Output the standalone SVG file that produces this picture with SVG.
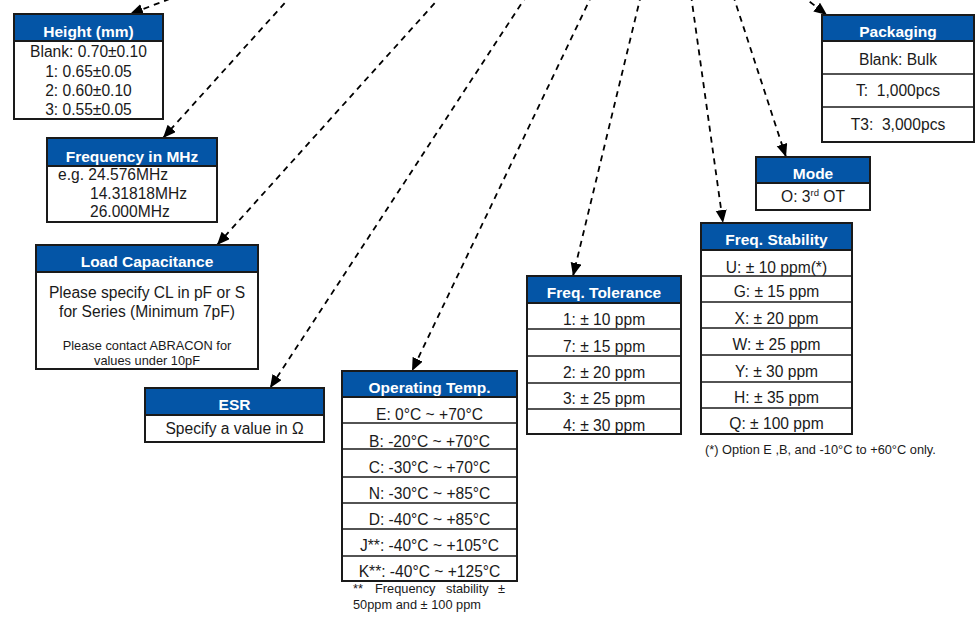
<svg xmlns="http://www.w3.org/2000/svg" width="980" height="625" viewBox="0 0 980 625">
<defs>
<style>
.frame{fill:#fff;stroke:#1a1a1a;stroke-width:2}
.hdr{fill:#0455A6;stroke:#1a1a1a;stroke-width:2}
.sep{stroke:#1a1a1a;stroke-width:1.6}
.ht{font-family:"Liberation Sans",Arial,sans-serif;font-weight:bold;font-size:15.5px;fill:#fff;text-anchor:middle}
.bt{font-family:"Liberation Sans",Arial,sans-serif;font-size:15.6px;fill:#1a1a1a;text-anchor:middle}
.bl{font-family:"Liberation Sans",Arial,sans-serif;font-size:15.6px;fill:#1a1a1a}
.sm{font-family:"Liberation Sans",Arial,sans-serif;font-size:12.8px;fill:#1a1a1a}
.smc{font-family:"Liberation Sans",Arial,sans-serif;font-size:12.8px;fill:#1a1a1a;text-anchor:middle}
.conn{stroke:#000;stroke-width:1.8;stroke-dasharray:6 5;fill:none}
</style>
<marker id="arr" markerUnits="userSpaceOnUse" markerWidth="14" markerHeight="12" refX="13" refY="5.5" orient="auto">
<path d="M0,0 L13,5.5 L0,11 z" fill="#000"/>
</marker>
</defs>
<rect width="980" height="625" fill="#fff"/>

<g id="connectors">
<line class="conn" x1="180" y1="-5" x2="130" y2="14" marker-end="url(#arr)"/>
<line class="conn" x1="292" y1="-5" x2="163" y2="138" marker-end="url(#arr)"/>
<line class="conn" x1="442" y1="-5" x2="217" y2="245" marker-end="url(#arr)"/>
<line class="conn" x1="527" y1="-5" x2="270" y2="388" marker-end="url(#arr)"/>
<line class="conn" x1="592" y1="-5" x2="412" y2="371" marker-end="url(#arr)"/>
<line class="conn" x1="641" y1="-5" x2="573" y2="276" marker-end="url(#arr)"/>
<line class="conn" x1="691" y1="-5" x2="723" y2="223" marker-end="url(#arr)"/>
<line class="conn" x1="733" y1="-5" x2="786" y2="157" marker-end="url(#arr)"/>
<line class="conn" x1="801" y1="-5" x2="827" y2="15" marker-end="url(#arr)"/>
</g>

<g id="height">
<rect class="frame" x="14" y="14" width="149" height="105"/>
<rect class="hdr" x="14" y="14" width="149" height="27"/>
<text class="ht" x="88.5" y="36.5">Height (mm)</text>
<text class="bt" x="88.5" y="57">Blank: 0.70±0.10</text>
<text class="bt" x="88.5" y="77">1: 0.65±0.05</text>
<text class="bt" x="88.5" y="96">2: 0.60±0.10</text>
<text class="bt" x="88.5" y="115">3: 0.55±0.05</text>
</g>

<g id="frequency">
<rect class="frame" x="47" y="138" width="170" height="84"/>
<rect class="hdr" x="47" y="138" width="170" height="28"/>
<text class="ht" x="132" y="161.5">Frequency in MHz</text>
<text class="bl" x="58" y="180">e.g. 24.576MHz</text>
<text class="bl" x="90" y="199">14.31818MHz</text>
<text class="bl" x="90" y="217">26.000MHz</text>
</g>

<g id="load-capacitance">
<rect class="frame" x="36" y="245" width="222" height="124"/>
<rect class="hdr" x="36" y="245" width="222" height="27"/>
<text class="ht" x="147" y="267">Load Capacitance</text>
<text class="bt" x="147" y="298">Please specify CL in pF or S</text>
<text class="bt" x="147" y="317">for Series (Minimum 7pF)</text>
<text class="smc" x="147" y="350">Please contact ABRACON for</text>
<text class="smc" x="147" y="365">values under 10pF</text>
</g>

<g id="esr">
<rect class="frame" x="145" y="388" width="179" height="54"/>
<rect class="hdr" x="145" y="388" width="179" height="27"/>
<text class="ht" x="234.5" y="410">ESR</text>
<text class="bt" x="234.5" y="434">Specify a value in Ω</text>
</g>

<g id="operating-temp">
<rect class="frame" x="342" y="371" width="175" height="210"/>
<rect class="hdr" x="342" y="371" width="175" height="26"/>
<text class="ht" x="429.5" y="393">Operating Temp.</text>
<line class="sep" x1="342" y1="423" x2="517" y2="423"/>
<line class="sep" x1="342" y1="449" x2="517" y2="449"/>
<line class="sep" x1="342" y1="477" x2="517" y2="477"/>
<line class="sep" x1="342" y1="503" x2="517" y2="503"/>
<line class="sep" x1="342" y1="529" x2="517" y2="529"/>
<line class="sep" x1="342" y1="556" x2="517" y2="556"/>
<text class="bt" x="429.5" y="420">E: 0°C ~ +70°C</text>
<text class="bt" x="429.5" y="447">B: -20°C ~ +70°C</text>
<text class="bt" x="429.5" y="473">C: -30°C ~ +70°C</text>
<text class="bt" x="429.5" y="499">N: -30°C ~ +85°C</text>
<text class="bt" x="429.5" y="525">D: -40°C ~ +85°C</text>
<text class="bt" x="429.5" y="551">J**: -40°C ~ +105°C</text>
<text class="bt" x="429.5" y="577">K**: -40°C ~ +125°C</text>
<text class="sm" y="593"><tspan x="353">**</tspan><tspan x="375">Frequency</tspan><tspan x="446">stability</tspan><tspan x="498">±</tspan></text>
<text class="sm" x="353" y="609">50ppm and ± 100 ppm</text>
</g>

<g id="freq-tolerance">
<rect class="frame" x="527" y="276" width="154" height="158"/>
<rect class="hdr" x="527" y="276" width="154" height="27"/>
<text class="ht" x="604" y="298">Freq. Tolerance</text>
<line class="sep" x1="527" y1="329" x2="681" y2="329"/>
<line class="sep" x1="527" y1="356" x2="681" y2="356"/>
<line class="sep" x1="527" y1="383" x2="681" y2="383"/>
<line class="sep" x1="527" y1="409" x2="681" y2="409"/>
<text class="bt" x="604" y="325">1: ± 10 ppm</text>
<text class="bt" x="604" y="352">7: ± 15 ppm</text>
<text class="bt" x="604" y="378">2: ± 20 ppm</text>
<text class="bt" x="604" y="404">3: ± 25 ppm</text>
<text class="bt" x="604" y="431">4: ± 30 ppm</text>
</g>

<g id="freq-stability">
<rect class="frame" x="701" y="223" width="151" height="211"/>
<rect class="hdr" x="701" y="223" width="151" height="27"/>
<text class="ht" x="776.5" y="245">Freq. Stability</text>
<line class="sep" x1="701" y1="276" x2="852" y2="276"/>
<line class="sep" x1="701" y1="302" x2="852" y2="302"/>
<line class="sep" x1="701" y1="328" x2="852" y2="328"/>
<line class="sep" x1="701" y1="355" x2="852" y2="355"/>
<line class="sep" x1="701" y1="382" x2="852" y2="382"/>
<line class="sep" x1="701" y1="408" x2="852" y2="408"/>
<text class="bt" x="776.5" y="273">U: ± 10 ppm(*)</text>
<text class="bt" x="776.5" y="297">G: ± 15 ppm</text>
<text class="bt" x="776.5" y="324">X: ± 20 ppm</text>
<text class="bt" x="776.5" y="350">W: ± 25 ppm</text>
<text class="bt" x="776.5" y="377">Y: ± 30 ppm</text>
<text class="bt" x="776.5" y="403">H: ± 35 ppm</text>
<text class="bt" x="776.5" y="429">Q: ± 100 ppm</text>
<text class="sm" x="705" y="454">(*) Option E ,B, and -10°C to +60°C only.</text>
</g>

<g id="mode">
<rect class="frame" x="756" y="157" width="114" height="53"/>
<rect class="hdr" x="756" y="157" width="114" height="26"/>
<text class="ht" x="813" y="179">Mode</text>
<text class="bt" x="813" y="202">O: 3<tspan font-size="9.5px" dy="-6">rd</tspan><tspan dy="6"> OT</tspan></text>
</g>

<g id="packaging">
<rect class="frame" x="822" y="15" width="152" height="127"/>
<rect class="hdr" x="822" y="15" width="152" height="26"/>
<text class="ht" x="898" y="37">Packaging</text>
<line class="sep" x1="822" y1="74" x2="974" y2="74"/>
<line class="sep" x1="822" y1="107" x2="974" y2="107"/>
<text class="bt" x="898" y="65">Blank: Bulk</text>
<text class="bt" x="898" y="96" xml:space="preserve">T:  1,000pcs</text>
<text class="bt" x="898" y="130" xml:space="preserve">T3:  3,000pcs</text>
</g>
</svg>
